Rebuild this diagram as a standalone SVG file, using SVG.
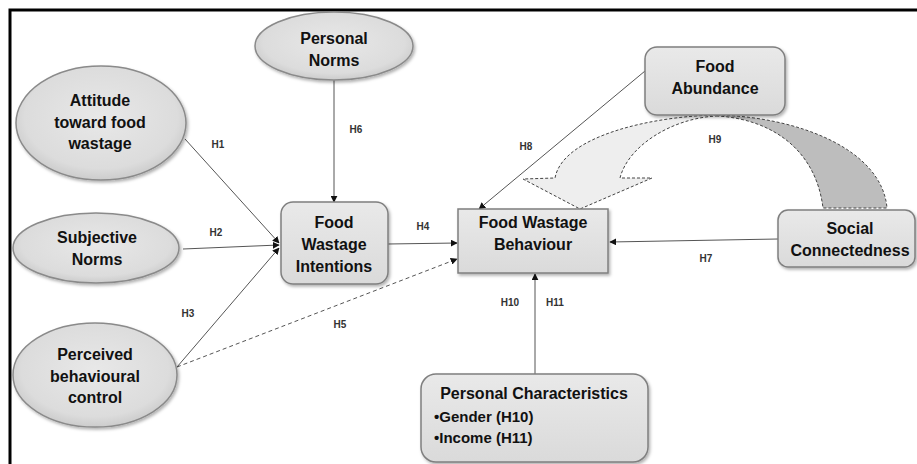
<svg xmlns="http://www.w3.org/2000/svg" width="917" height="464" viewBox="0 0 917 464">
<defs>
<radialGradient id="eg" cx="50%" cy="45%" r="60%">
<stop offset="0" stop-color="#e8e8e8"/>
<stop offset="0.75" stop-color="#dcdcdc"/>
<stop offset="1" stop-color="#c4c4c4"/>
</radialGradient>
<linearGradient id="bg" x1="0" y1="0" x2="0" y2="1">
<stop offset="0" stop-color="#e9e9e9"/>
<stop offset="1" stop-color="#dadada"/>
</linearGradient>
<filter id="sh" x="-10%" y="-10%" width="125%" height="130%">
<feDropShadow dx="1.5" dy="2" stdDeviation="1.5" flood-color="#000" flood-opacity="0.3"/>
</filter>
<marker id="ah" viewBox="0 0 10 10" refX="9" refY="5" markerWidth="7" markerHeight="7" markerUnits="userSpaceOnUse" orient="auto">
<path d="M0,0 L10,5 L0,10 Z" fill="#111"/>
</marker>
</defs>
<style>
.node{fill:url(#bg);stroke:#7f7f7f;stroke-width:1.5;filter:url(#sh)}
.ell{fill:url(#eg);stroke:#8a8a8a;stroke-width:1.5;filter:url(#sh)}
.t{font-family:"Liberation Sans",Arial,sans-serif;font-weight:bold;font-size:16px;fill:#111;text-anchor:middle}
.tl{font-family:"Liberation Sans",Arial,sans-serif;font-weight:bold;font-size:15px;fill:#111}
.lab{font-family:"Liberation Sans",Arial,sans-serif;font-weight:bold;font-size:10px;fill:#333;text-anchor:middle}
.c{stroke:#555;stroke-width:1;fill:none;marker-end:url(#ah)}
.d{stroke-dasharray:4,3}
.arc{stroke:#444;stroke-width:1;stroke-dasharray:3,2}
</style>
<rect width="917" height="464" fill="#fff"/>
<path d="M10,464 V10 H917" fill="none" stroke="#000" stroke-width="3"/>

<g id="h9-arrow">
<path class="arc" fill="#bdbdbd" d="M717,115 C800,117 882,150 887,208 L823,208 C816,150 772,119 717,116 Z"/>
<path class="arc" fill="#eeeeee" d="M717,115 C655,116 563,135 555,178 L523,179 L580,209 L652,178 L620,178 C628,146 672,118 717,116 Z"/>
</g>

<g id="connectors">
<line class="c" x1="334" y1="80" x2="334" y2="202"/>
<line class="c" x1="185" y1="139" x2="279" y2="243"/>
<line class="c" x1="183" y1="249" x2="279" y2="245"/>
<line class="c" x1="177" y1="367" x2="279" y2="248"/>
<line class="c d" x1="177" y1="367" x2="457" y2="259"/>
<line class="c" x1="388" y1="244" x2="457" y2="243"/>
<line class="c" x1="645" y1="71" x2="479" y2="209"/>
<line class="c" x1="778" y1="239" x2="610" y2="242"/>
<line class="c" x1="535" y1="374" x2="535" y2="274"/>
</g>

<g id="labels">
<text class="lab" x="218" y="148">H1</text>
<text class="lab" x="356" y="133">H6</text>
<text class="lab" x="216" y="236">H2</text>
<text class="lab" x="423" y="230">H4</text>
<text class="lab" x="188" y="317">H3</text>
<text class="lab" x="340" y="328">H5</text>
<text class="lab" x="526" y="150">H8</text>
<text class="lab" x="715" y="143">H9</text>
<text class="lab" x="706" y="262">H7</text>
<text class="lab" x="510" y="306">H10</text>
<text class="lab" x="555" y="306">H11</text>
</g>

<g id="personal-norms">
<ellipse class="ell" cx="334" cy="46" rx="79" ry="34"/>
<text class="t" x="334" y="44">Personal</text>
<text class="t" x="334" y="66">Norms</text>
</g>

<g id="attitude">
<ellipse class="ell" cx="101" cy="123" rx="85" ry="57"/>
<text class="t" x="100" y="106">Attitude</text>
<text class="t" x="100" y="128">toward food</text>
<text class="t" x="100" y="149">wastage</text>
</g>

<g id="subjective-norms">
<ellipse class="ell" cx="96" cy="248" rx="83" ry="35"/>
<text class="t" x="97" y="243">Subjective</text>
<text class="t" x="97" y="265">Norms</text>
</g>

<g id="perceived-control">
<ellipse class="ell" cx="95" cy="375" rx="82" ry="52"/>
<text class="t" x="95" y="360">Perceived</text>
<text class="t" x="95" y="382">behavioural</text>
<text class="t" x="95" y="403">control</text>
</g>

<g id="food-wastage-intentions">
<rect class="node" x="281" y="202" width="107" height="82" rx="12"/>
<text class="t" x="334" y="228">Food</text>
<text class="t" x="334" y="250">Wastage</text>
<text class="t" x="334" y="272">Intentions</text>
</g>

<g id="food-wastage-behaviour">
<rect class="node" x="458" y="209" width="150" height="64"/>
<text class="t" x="533" y="228">Food Wastage</text>
<text class="t" x="533" y="250">Behaviour</text>
</g>

<g id="food-abundance">
<rect class="node" x="645" y="47" width="140" height="68" rx="12"/>
<text class="t" x="715" y="72">Food</text>
<text class="t" x="715" y="94">Abundance</text>
</g>

<g id="social-connectedness">
<rect class="node" x="778" y="210" width="137" height="57" rx="10"/>
<text class="t" x="850" y="234">Social</text>
<text class="t" x="850" y="256" font-size="15">Connectedness</text>
</g>

<g id="personal-characteristics">
<rect class="node" x="421" y="374" width="227" height="88" rx="15"/>
<text class="t" x="534" y="399" font-size="15">Personal Characteristics</text>
<text class="tl" x="434" y="422">•Gender (H10)</text>
<text class="tl" x="434" y="443">•Income (H11)</text>
</g>
</svg>
